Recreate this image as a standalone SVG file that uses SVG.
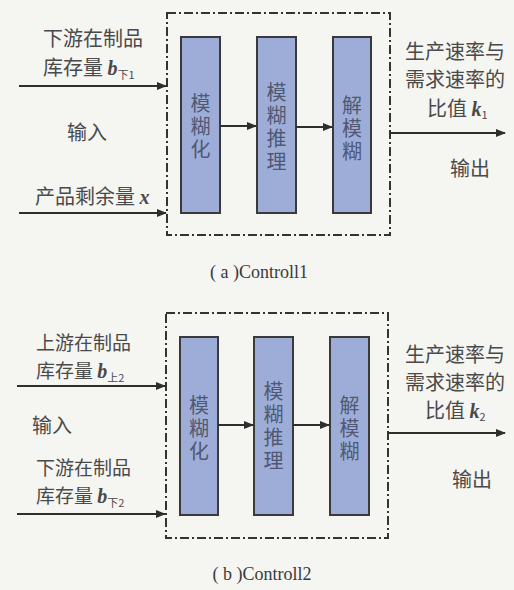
<svg xmlns="http://www.w3.org/2000/svg" width="514" height="590" viewBox="0 0 514 590">
<defs>
<marker id="ah" markerWidth="10" markerHeight="8" refX="9" refY="4" orient="auto" markerUnits="userSpaceOnUse">
<path d="M0,0 L10,4 L0,8 Z" fill="#2e2e2e"/>
</marker>
<style>
.bg{fill:#f5f5f2}
.frame{fill:none;stroke:#333;stroke-width:2;stroke-dasharray:9 3 2 3}
.blk{fill:#9dadd8;stroke:#3a3a3a;stroke-width:2}
.conn line{stroke:#2e2e2e;stroke-width:2;marker-end:url(#ah)}
.t{font-family:"Noto Sans CJK SC","Liberation Serif",serif;font-size:20px;fill:#4a4a4a}
.t2{font-family:"Noto Sans CJK SC","Liberation Serif",serif;font-size:19px;fill:#4a4a4a}
.bt{font-family:"Noto Sans CJK SC",sans-serif;font-size:20px;fill:#505872;text-anchor:middle;writing-mode:vertical-rl;letter-spacing:3px}
.it{font-family:"Liberation Serif",serif;font-style:italic;font-weight:bold;font-size:20px}
.sub{font-family:"Noto Sans CJK SC","Liberation Serif",serif;font-size:11px}
.cap{font-family:"Liberation Serif","Noto Sans CJK SC",serif;font-size:18px;fill:#3a3a3a;text-anchor:middle}
</style>
</defs>
<rect class="bg" x="0" y="0" width="514" height="590"/>

<!-- (a) -->
<g id="a-frame"><rect class="frame" x="167" y="13" width="223" height="222"/></g>
<g id="a-fuzzify"><rect class="blk" x="181" y="37" width="39" height="176"/>
<text class="bt" x="200.5" y="128">模糊化</text></g>
<g id="a-infer"><rect class="blk" x="257" y="37" width="39" height="176"/>
<text class="bt" x="276.5" y="128">模糊推理</text></g>
<g id="a-defuzz"><rect class="blk" x="333" y="37" width="38" height="176"/>
<text class="bt" x="352" y="130">解模糊</text></g>
<g id="a-in1"><text class="t"><tspan x="43" y="46">下游在制品</tspan><tspan x="43" y="75">库存量 </tspan><tspan class="it">b</tspan><tspan class="sub" dy="4">下1</tspan></text></g>
<g id="a-in-label"><text class="t" x="67" y="140">输入</text></g>
<g id="a-in2"><text class="t" x="35" y="204">产品剩余量 <tspan class="it">x</tspan></text></g>
<g id="a-out"><text class="t" text-anchor="middle"><tspan x="455" y="59">生产速率与</tspan><tspan x="455" y="87">需求速率的</tspan></text>
<text class="t" x="427" y="116">比值 <tspan class="it">k</tspan><tspan class="sub" font-family="Liberation Serif" dy="3">1</tspan></text></g>
<g id="a-out-label"><text class="t" x="470" y="176" text-anchor="middle">输出</text></g>
<g id="a-caption"><text class="cap" x="259" y="278">( a )Controll1</text></g>

<!-- (b) -->
<g id="b-frame"><rect class="frame" x="166" y="313" width="222" height="225"/></g>
<g id="b-fuzzify"><rect class="blk" x="180" y="337" width="38" height="178"/>
<text class="bt" x="199" y="430">模糊化</text></g>
<g id="b-infer"><rect class="blk" x="254" y="337" width="39" height="178"/>
<text class="bt" x="273.5" y="427">模糊推理</text></g>
<g id="b-defuzz"><rect class="blk" x="330" y="337" width="39" height="178"/>
<text class="bt" x="349.5" y="430">解模糊</text></g>
<g id="b-in1"><text class="t2"><tspan x="36" y="350">上游在制品</tspan><tspan x="36" y="378">库存量 </tspan><tspan class="it">b</tspan><tspan class="sub" dy="4">上2</tspan></text></g>
<g id="b-in-label"><text class="t" x="32" y="433">输入</text></g>
<g id="b-in2"><text class="t2"><tspan x="36" y="475">下游在制品</tspan><tspan x="36" y="503">库存量 </tspan><tspan class="it">b</tspan><tspan class="sub" dy="4">下2</tspan></text></g>
<g id="b-out"><text class="t" text-anchor="middle"><tspan x="455" y="362">生产速率与</tspan><tspan x="455" y="390">需求速率的</tspan></text>
<text class="t" x="425" y="418">比值 <tspan class="it">k</tspan><tspan class="sub" font-family="Liberation Serif" dy="3">2</tspan></text></g>
<g id="b-out-label"><text class="t" x="472" y="487" text-anchor="middle">输出</text></g>
<g id="b-caption"><text class="cap" x="262" y="580">( b )Controll2</text></g>

<g id="connectors" class="conn">
<line x1="19" y1="86" x2="166" y2="86"/>
<line x1="19" y1="213" x2="166" y2="213"/>
<line x1="220" y1="126" x2="256" y2="126"/>
<line x1="296" y1="127" x2="332" y2="127"/>
<line x1="390" y1="133" x2="505" y2="133"/>
<line x1="17" y1="386" x2="165" y2="386"/>
<line x1="17" y1="514" x2="165" y2="514"/>
<line x1="218" y1="425" x2="253" y2="425"/>
<line x1="293" y1="425" x2="329" y2="425"/>
<line x1="388" y1="433" x2="505" y2="433"/>
</g>
</svg>
